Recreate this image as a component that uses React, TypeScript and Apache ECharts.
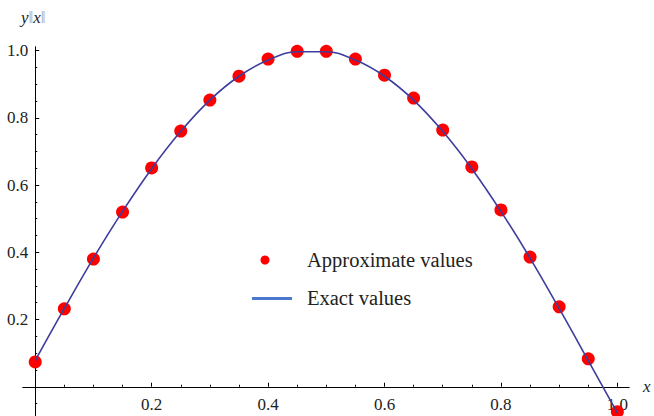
import React, { useEffect, useRef } from "react";
import * as echarts from "echarts";

const xValues = [0, 0.05, 0.1, 0.15, 0.2, 0.25, 0.3, 0.35, 0.4, 0.45, 0.5, 0.55, 0.6, 0.65, 0.7, 0.75, 0.8, 0.85, 0.9, 0.95, 1.0];
const approxValues = [0.074, 0.232, 0.38, 0.52, 0.651, 0.761, 0.853, 0.924, 0.975, 0.998, 0.998, 0.975, 0.927, 0.859, 0.764, 0.654, 0.526, 0.386, 0.238, 0.083, -0.074];
const exactValues = [0.078, 0.233, 0.383, 0.522, 0.649, 0.76, 0.853, 0.924, 0.972, 0.997, 0.997, 0.972, 0.924, 0.853, 0.76, 0.649, 0.522, 0.383, 0.233, 0.078, -0.078];
const xMajorTicks = [0.2, 0.4, 0.6, 0.8, 1.0];
const xMinorTicks = [0.05, 0.1, 0.15, 0.25, 0.3, 0.35, 0.45, 0.5, 0.55, 0.65, 0.7, 0.75, 0.85, 0.9, 0.95];
const yMajorTicks = [0.2, 0.4, 0.6, 0.8, 1.0];
const yMinorTicks = [-0.05, 0.05, 0.1, 0.15, 0.25, 0.3, 0.35, 0.45, 0.5, 0.55, 0.65, 0.7, 0.75, 0.85, 0.9, 0.95];
const legendLabels = ["Approximate values", "Exact values"];

const FONT = "Liberation Serif";
const X_MIN = -0.021, X_MAX = 1.02, Y_MIN = -0.087, Y_MAX = 1.011;

export default function App() {
  const ref = useRef<HTMLDivElement>(null);
  useEffect(() => {
    if (!ref.current) return;
    const chart = echarts.init(ref.current, null, { renderer: "svg" });
    const axisLine = { show: true, onZero: false, lineStyle: { color: "#000", width: 1 } };
    const baseX = { type: "value", min: X_MIN, max: X_MAX, position: "bottom", splitLine: { show: false } };
    const baseY = { type: "value", min: Y_MIN, max: Y_MAX, position: "left", splitLine: { show: false } };
    const grid = { left: 23, right: 25, top: 47, bottom: 0, containLabel: false, outerBoundsMode: "none" };
    const build = (xOff: number, yOff: number) => ({
      animation: false,
      backgroundColor: "#fff",
      textStyle: { fontFamily: FONT },
      grid,
      xAxis: [
        {
          ...baseX,
          offset: xOff,
          name: "x",
          nameLocation: "end",
          nameGap: 14,
          nameTextStyle: { fontFamily: FONT, fontStyle: "italic", fontSize: 17, color: "#222" },
          axisLine,
          axisTick: { show: true, inside: true, length: 4, customValues: xMajorTicks, lineStyle: { color: "#000" } },
          axisLabel: {
            show: true,
            customValues: xMajorTicks,
            formatter: (v: number) => v.toFixed(1),
            fontFamily: FONT,
            fontSize: 17,
            color: "#222",
            margin: 9,
          },
        },
        {
          ...baseX,
          offset: xOff,
          axisLine,
          axisTick: { show: true, inside: true, length: 2, customValues: xMinorTicks, lineStyle: { color: "#000" } },
          axisLabel: { show: false },
        },
      ],
      yAxis: [
        {
          ...baseY,
          offset: yOff,
          axisLine,
          axisTick: { show: true, inside: true, length: 4, customValues: yMajorTicks, lineStyle: { color: "#000" } },
          axisLabel: {
            show: true,
            customValues: yMajorTicks,
            formatter: (v: number) => v.toFixed(1),
            fontFamily: FONT,
            fontSize: 17,
            color: "#222",
            margin: 7,
          },
        },
        {
          ...baseY,
          offset: yOff,
          axisLine,
          axisTick: { show: true, inside: true, length: 2, customValues: yMinorTicks, lineStyle: { color: "#000" } },
          axisLabel: { show: false },
        },
      ],
      series: [
        {
          name: legendLabels[0],
          type: "scatter",
          xAxisIndex: 0,
          yAxisIndex: 0,
          data: xValues.map((x, i) => [x, approxValues[i]]),
          symbol: "circle",
          symbolSize: 13,
          itemStyle: { color: "#ff0000", opacity: 1 },
          clip: false,
        },
        {
          name: legendLabels[1],
          type: "line",
          xAxisIndex: 0,
          yAxisIndex: 0,
          data: xValues.map((x, i) => [x, exactValues[i]]),
          smooth: 0.4,
          showSymbol: false,
          symbol: "none",
          lineStyle: { color: "#3d3d9e", width: 1.6 },
          clip: false,
        },
      ],
      graphic: [
        {
          type: "text",
          left: 21,
          top: 9,
          style: {
            text: "{i|y}{b|‖}{i|x}{b|‖}",
            rich: {
              i: { fontFamily: FONT, fontStyle: "italic", fontSize: 17, fill: "#222" },
              b: { fontFamily: FONT, fontSize: 17, fill: "#aaa" },
            },
          },
        },
        { type: "circle", shape: { cx: 265, cy: 260, r: 4.5 }, style: { fill: "#ff0000" } },
        {
          type: "text",
          left: 307,
          top: 249,
          style: { text: legendLabels[0], fontFamily: FONT, fontSize: 20.5, fill: "#222" },
        },
        {
          type: "line",
          shape: { x1: 252, y1: 298.5, x2: 292, y2: 298.5 },
          style: { stroke: "#4a78cc", lineWidth: 3 },
        },
        {
          type: "text",
          left: 307,
          top: 287,
          style: { text: legendLabels[1], fontFamily: FONT, fontSize: 20.5, fill: "#222" },
        },
      ],
    });
    chart.setOption(build(0, 0));
    const origin = chart.convertToPixel({ gridIndex: 0 }, [0, 0]) as number[];
    const rect = (chart as any).getModel().getComponent("grid", 0).coordinateSystem.getRect();
    const xOff = origin[1] - (rect.y + rect.height);
    const yOff = rect.x - origin[0];
    chart.setOption(build(xOff, yOff));
    return () => chart.dispose();
  }, []);
  return <div ref={ref} style={{ position: "fixed", left: 0, top: 0, width: 654, height: 416 }} />;
}
